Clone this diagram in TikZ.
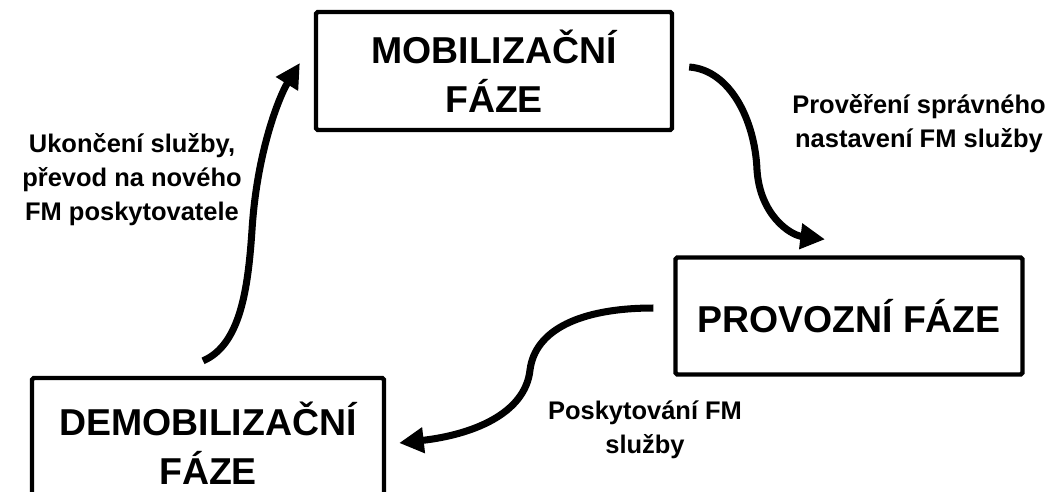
\documentclass[tikz,border=0pt]{standalone}
\usepackage{fontspec}
\setmainfont{Liberation Sans}
\usepackage{tikz}
\usetikzlibrary{positioning, arrows.meta}
\definecolor{framecolor}{RGB}{0,0,0}

\tikzset{
    phasebox/.style={rectangle, rounded corners=1pt, draw=framecolor, line width=2.5pt, align=center, inner sep=0pt, font=\bfseries\fontsize{21.3}{27.8}\selectfont},
    phaselabel/.style={align=center, inner sep=0pt, font=\bfseries\fontsize{14.5}{19.3}\selectfont},
    cyclearrow/.style={line width=4pt, draw=framecolor, -{Triangle[length=14pt, width=14pt]}},
}

\begin{document}
\begin{tikzpicture}[x=0.02cm, y=-0.02cm]
    \useasboundingbox (0,0) rectangle (1053,491);
    \clip (0,0) rectangle (1053,491);

    % phases
    \node[phasebox, minimum width=7.12cm, minimum height=2.36cm] (mob) at (494,71) {MOBILIZAČNÍ\\FÁZE};
    \node[phasebox, minimum width=6.94cm, minimum height=2.34cm] (prov) at (849,316) {PROVOZNÍ FÁZE};
    \node[phasebox, minimum width=7.04cm, minimum height=2.6cm] (demob) at (208,443) {DEMOBILIZAČNÍ\\FÁZE};

    % transitions
    \draw[cyclearrow] ([shift={(15,-4)}]mob.east) .. controls (730,70) and (755,120) .. (757,170)
        .. controls (760,215) and (790,235) .. ([shift={(-24,-16)}]prov.north);
    \draw[cyclearrow] ([shift={(-20,-8)}]prov.west) .. controls (580,308) and (535,330) .. (530,370)
        .. controls (525,415) and (470,435) .. ([shift={(13,0)}]demob.east);
    \draw[cyclearrow] ([shift={(-5,-15)}]demob.north) .. controls (240,345) and (248,290) .. (252,230)
        .. controls (257,150) and (280,95) .. ([shift={(-14,-8)}]mob.west);

    % labels
    \node[phaselabel] (check) at (919,124) {Prověření správného\\nastavení FM služby};
    \node[phaselabel] (serve) at (645,430) {Poskytování FM\\služby};
    \node[phaselabel] (handover) at (132,180) {Ukončení služby,\\převod na nového\\FM poskytovatele};
\end{tikzpicture}
\end{document}
